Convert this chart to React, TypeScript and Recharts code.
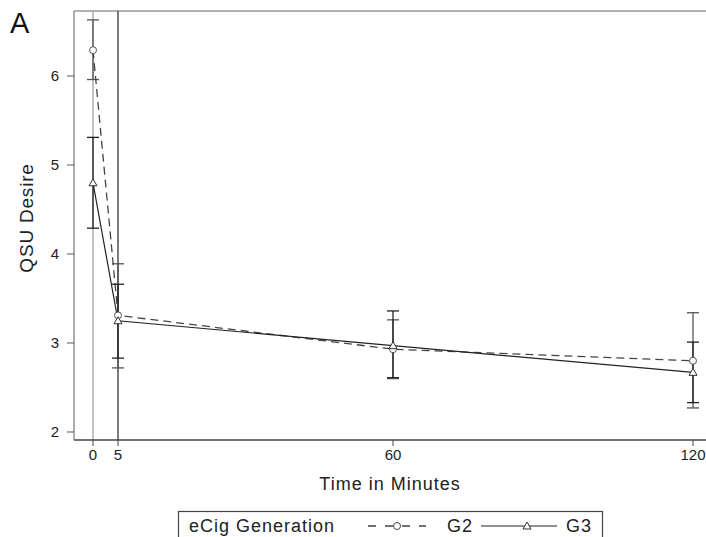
import React from 'react';
import {
  ComposedChart,
  Line,
  ErrorBar,
  XAxis,
  YAxis,
  ReferenceLine,
} from 'recharts';

const TIMES = [0, 5, 60, 120];
const X_TICKS = [0, 5, 60, 120];
const Y_TICKS = [2, 3, 4, 5, 6];

const G2_MEAN = [6.29, 3.31, 2.93, 2.8];
const G2_LOW = [5.96, 2.72, 2.6, 2.27];
const G2_HIGH = [6.63, 3.89, 3.26, 3.34];

const G3_MEAN = [4.8, 3.25, 2.97, 2.67];
const G3_LOW = [4.29, 2.83, 2.61, 2.33];
const G3_HIGH = [5.31, 3.66, 3.36, 3.01];

const X_MIN = -3.8;
const X_MAX = 122.6;
const Y_MIN = 1.91;
const Y_MAX = 6.73;

const FONT = '"Liberation Sans", Arial, sans-serif';

const data = TIMES.map((t, i) => ({
  t,
  g2: G2_MEAN[i],
  g2Err: [G2_MEAN[i] - G2_LOW[i], G2_HIGH[i] - G2_MEAN[i]],
  g3: G3_MEAN[i],
  g3Err: [G3_MEAN[i] - G3_LOW[i], G3_HIGH[i] - G3_MEAN[i]],
}));

// hollow triangle marker for G3
const Triangle = (props: any) => {
  const { cx, cy, key } = props;
  if (cx == null || cy == null) return null;
  const s = 4;
  return (
    <polygon
      key={key}
      points={`${cx},${cy - s} ${cx - s},${cy + s * 0.75} ${cx + s},${cy + s * 0.75}`}
      fill="#fff"
      stroke="#333"
      strokeWidth={1}
    />
  );
};

const YLabel = () => (
  <text
    x={33}
    y={218}
    transform="rotate(-90, 33, 218)"
    textAnchor="middle"
    fontFamily={FONT}
    fontSize={19}
    letterSpacing={0.8}
    fill="#222"
  >
    QSU Desire
  </text>
);

function LegendBox() {
  const txt = { fontFamily: FONT, fontSize: 18, letterSpacing: 1, fill: '#222' };
  return (
    <svg
      width={706}
      height={537}
      style={{ position: 'absolute', left: 0, top: 0, pointerEvents: 'none' }}
    >
      <rect x={178.5} y={511.5} width={424} height={40} fill="#fff" stroke="#444" strokeWidth={1.2} />
      <text x={189} y={532} {...txt}>
        eCig Generation
      </text>
      <line x1={368} y1={526} x2={426} y2={526} stroke="#444" strokeWidth={1.3} strokeDasharray="8 9" />
      <circle cx={397} cy={526} r={3.5} fill="#fff" stroke="#444" strokeWidth={1} />
      <text x={447} y={532} {...txt}>
        G2
      </text>
      <line x1={481} y1={526} x2={557} y2={526} stroke="#222" strokeWidth={1.2} />
      <polygon points="527,522 523,529 531,529" fill="#fff" stroke="#333" strokeWidth={1} />
      <text x={566} y={532} {...txt}>
        G3
      </text>
    </svg>
  );
}

export default function App() {
  return (
    <div style={{ position: 'absolute', left: 0, top: 0, width: 706, height: 537, background: '#fff' }}>
      <ComposedChart width={706} height={537} data={data} margin={{ top: 11, right: 0, bottom: 0, left: 0 }}>
        <XAxis
          dataKey="t"
          type="number"
          domain={[X_MIN, X_MAX]}
          ticks={X_TICKS}
          allowDataOverflow
          height={97}
          tickSize={6}
          tickMargin={3}
          axisLine={{ stroke: '#444', strokeWidth: 1.5 }}
          tickLine={{ stroke: '#444' }}
          tick={{ fontSize: 15, fill: '#222', fontFamily: FONT }}
          label={{
            value: 'Time in Minutes',
            position: 'insideTop',
            offset: 37,
            fontSize: 18,
            fill: '#222',
            fontFamily: FONT,
            letterSpacing: 1,
          }}
        />
        <YAxis
          type="number"
          domain={[Y_MIN, Y_MAX]}
          ticks={Y_TICKS}
          allowDataOverflow
          width={74}
          tickSize={7}
          tickMargin={8}
          axisLine={{ stroke: '#777', strokeWidth: 1.2 }}
          tickLine={{ stroke: '#555' }}
          tick={{ fontSize: 15, fill: '#222', fontFamily: FONT }}
          label={<YLabel />}
        />
        <ReferenceLine y={Y_MAX} stroke="#999" strokeWidth={1.5} />
        <ReferenceLine x={0} stroke="#999" strokeWidth={1.2} />
        <ReferenceLine x={5} stroke="#333" strokeWidth={1.3} />
        <Line
          dataKey="g2"
          stroke="#444"
          strokeWidth={1.3}
          strokeDasharray="8 5"
          dot={{ r: 3.5, fill: '#fff', stroke: '#555', strokeWidth: 1, strokeDasharray: '' }}
          activeDot={false}
          isAnimationActive={false}
        >
          <ErrorBar dataKey="g2Err" direction="y" width={6} stroke="#555" strokeWidth={1.3} />
        </Line>
        <Line
          dataKey="g3"
          stroke="#222"
          strokeWidth={1.2}
          dot={<Triangle />}
          activeDot={false}
          isAnimationActive={false}
        >
          <ErrorBar dataKey="g3Err" direction="y" width={6} stroke="#222" strokeWidth={1.3} />
        </Line>
      </ComposedChart>
      <div
        style={{
          position: 'absolute',
          left: 10,
          top: 7,
          fontFamily: FONT,
          fontSize: 29,
          color: '#111',
        }}
      >
        A
      </div>
      <LegendBox />
    </div>
  );
}
